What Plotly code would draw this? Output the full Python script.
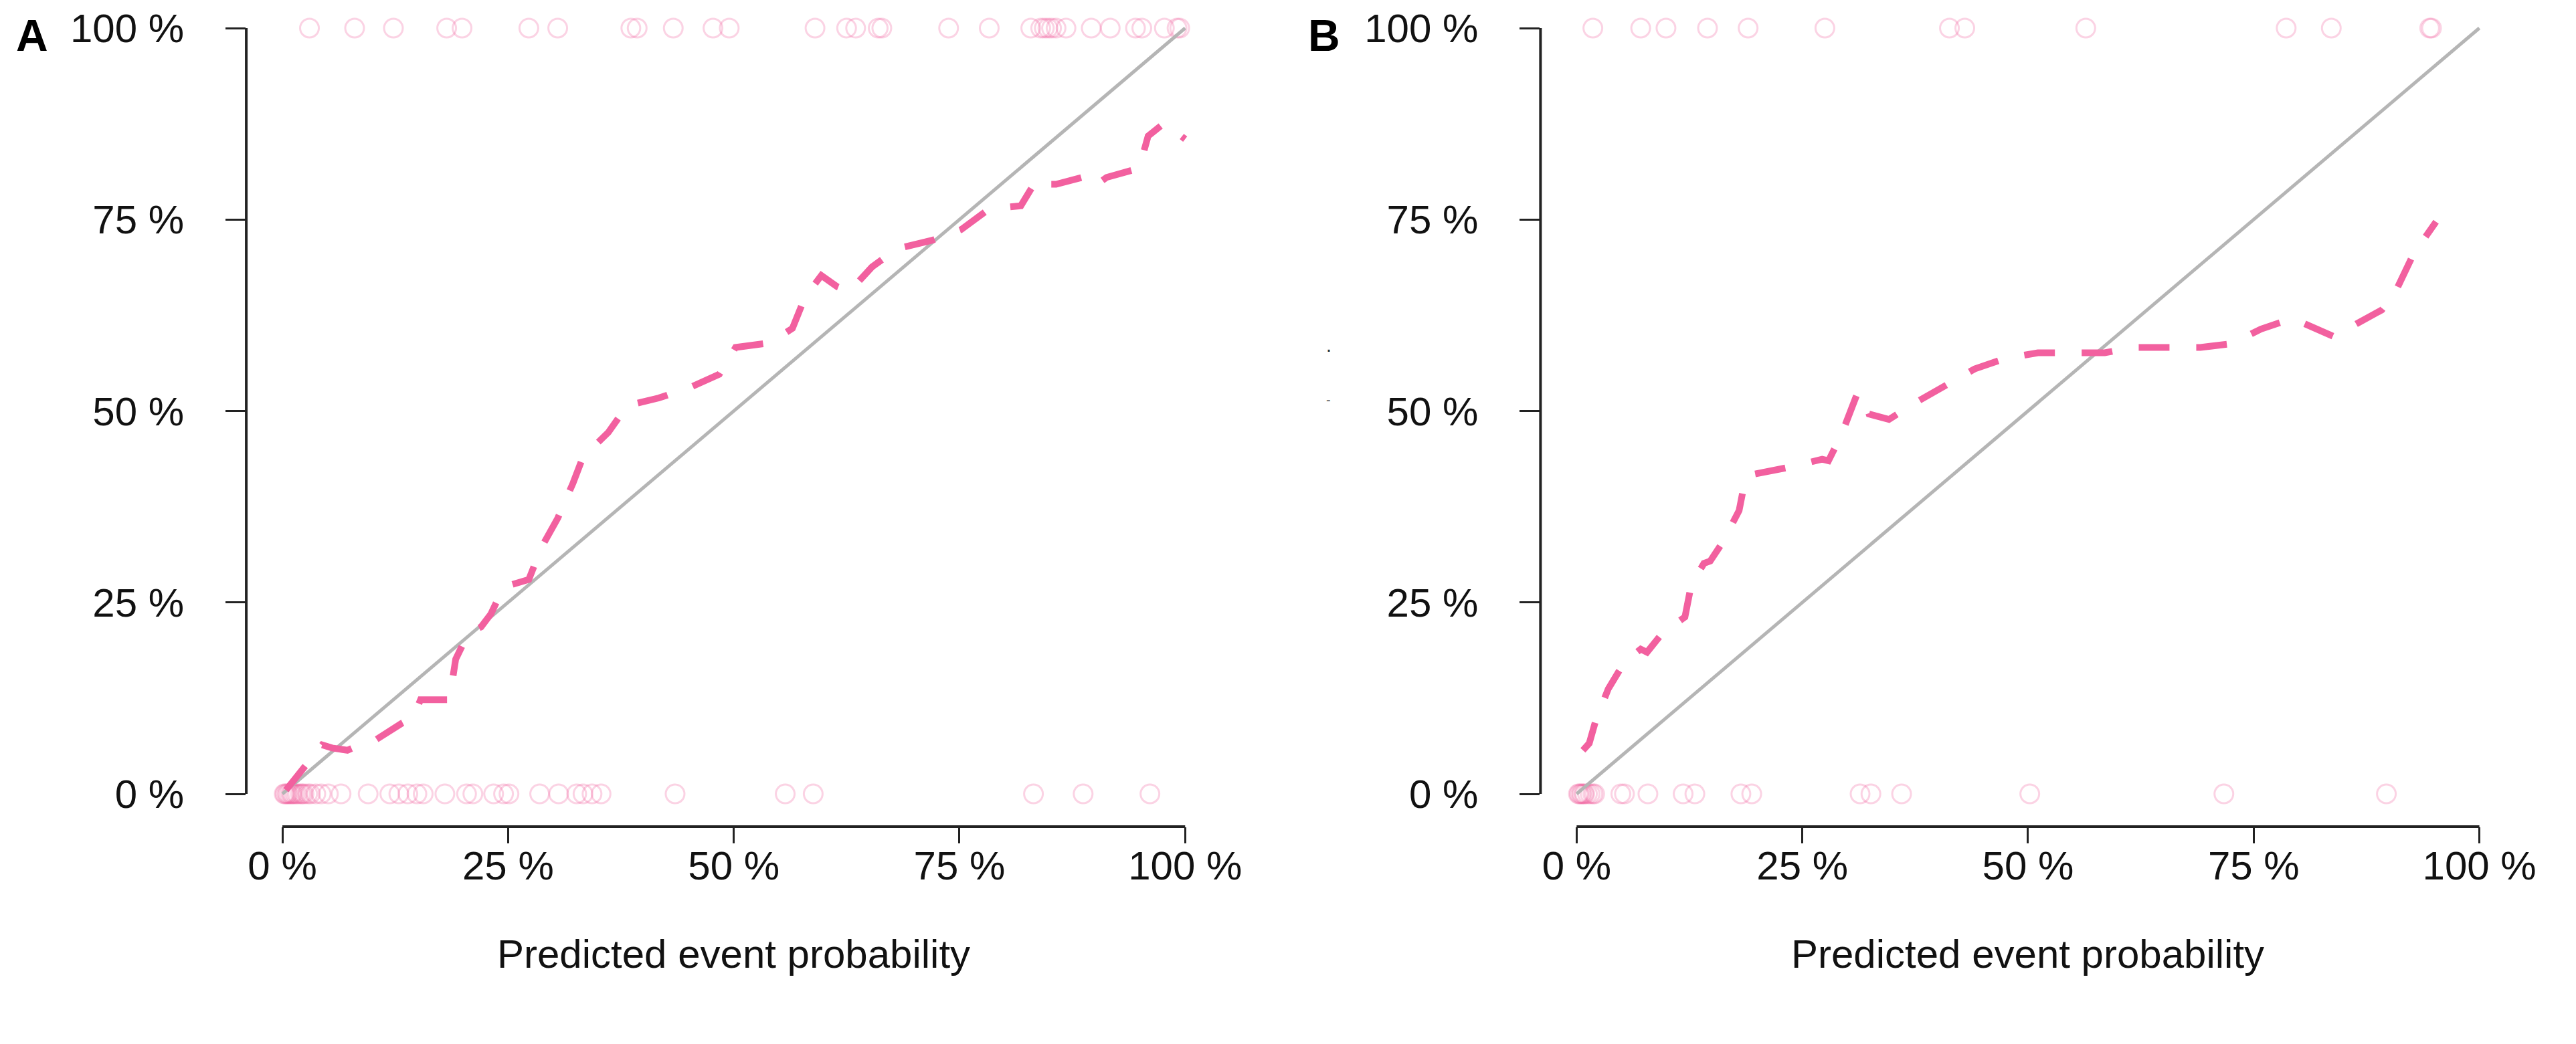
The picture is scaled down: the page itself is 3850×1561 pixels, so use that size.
import plotly.graph_objects as go

xa_curve = [0.4, 1.5, 2.7, 4.4, 5.5, 7.2, 8.8, 10.4, 13.2, 14.5, 15.3, 18.5, 19.2, 20.6, 22.0, 23.1, 24.5, 26.0, 27.3, 28.7,
            30.5, 32.2, 33.3, 36.1, 38.2, 41.7, 45.2, 48.4, 50.2, 54.0, 56.5, 57.9, 59.7, 61.5, 62.8, 65.3, 68.1, 72.0, 75.2, 78.3,
            81.8, 83.6, 84.7, 85.7, 88.9, 90.0, 91.3, 94.9, 95.9, 97.7, 100.0]
ya_curve = [0.5, 2.2, 4.0, 6.4, 6.0, 5.7, 6.5, 7.1, 9.2, 10.0, 12.3, 12.3, 17.6, 21.0, 21.8, 23.5, 27.0, 27.5, 28.0, 32.2,
            36.0, 40.6, 44.0, 47.2, 50.7, 51.7, 53.1, 54.8, 58.3, 58.9, 60.8, 64.9, 67.7, 66.2, 65.6, 68.8, 71.2, 72.3, 73.7, 76.4,
            76.8, 80.3, 79.6, 79.6, 80.6, 79.4, 80.5, 81.7, 85.9, 87.6, 85.5]

xb_curve = [0.7, 1.4, 2.1, 3.5, 5.3, 7.1, 7.8, 9.5, 12.0, 12.7, 14.1, 14.8, 16.2, 18.0, 18.7, 19.0, 23.3, 27.2, 27.9, 29.3,
            31.0, 31.7, 32.4, 34.6, 37.4, 40.9, 44.1, 47.6, 51.1, 54.7, 58.5, 61.7, 65.6, 69.1, 72.6, 75.8, 79.3, 82.5, 83.9, 86.4,
            89.2, 90.6, 92.7, 95.2]
yb_curve = [5.7, 6.6, 9.5, 13.7, 17.2, 18.9, 18.5, 21.0, 23.1, 27.3, 30.1, 30.4, 32.9, 37.0, 41.2, 41.6, 42.6, 43.7, 43.5, 46.8,
            52.0, 52.2, 49.6, 48.9, 51.0, 53.4, 55.5, 56.9, 57.6, 57.6, 57.6, 58.3, 58.3, 58.3, 58.8, 60.7, 62.1, 60.4, 59.7, 61.4,
            63.2, 65.3, 70.5, 74.7]

# observed events (100 %) and non-events (0 %) at their predicted probability
a_events = [3.0, 8.0, 12.3, 18.2, 19.9, 27.3, 30.5, 38.6, 39.3, 43.3, 47.7, 49.5, 59.0, 62.5, 63.5, 66.0, 66.4, 73.8,
            78.3, 82.9, 84.0, 84.4, 84.8, 85.2, 85.7, 86.8, 89.6, 91.7, 94.5, 95.2, 97.7, 99.1, 99.4]
a_nonevents = [0.2, 0.3, 0.5, 0.6, 0.8, 1.0, 1.1, 1.3, 1.5, 1.7, 2.0, 2.2, 2.4, 2.8, 3.1, 3.7, 4.3, 5.1, 6.5, 9.5,
               11.9, 12.9, 13.9, 14.9, 15.6, 18.0, 20.4, 21.1, 23.4, 24.5, 25.1, 28.5, 30.6, 32.6, 33.3, 34.3, 35.3,
               43.5, 55.7, 58.8, 83.2, 88.7, 96.1]
b_events = [1.8, 7.1, 9.9, 14.5, 19.0, 27.5, 41.3, 43.0, 56.4, 78.6, 83.6, 94.5, 94.7]
b_nonevents = [0.2, 0.3, 0.5, 0.6, 0.8, 0.9, 1.2, 1.5, 1.8, 2.0, 4.9, 5.3, 7.9, 11.8, 13.1, 18.2, 19.4, 31.4, 32.6,
               36.0, 50.2, 71.7, 89.7]

tick_vals = [0, 25, 50, 75, 100]
tick_text = ["0 %", "25 %", "50 %", "75 %", "100 %"]
diag = [0, 100]

PINK = "#f2609f"
CIRC = "rgba(242, 96, 159, 0.28)"
FONT = "Liberation Sans, Arial, sans-serif"

fig = go.Figure()

panels = [
    ("x", "y", xa_curve, ya_curve, a_events, a_nonevents),
    ("x2", "y2", xb_curve, yb_curve, b_events, b_nonevents),
]
for xr, yr, xc, yc, ev, nev in panels:
    # rug of outcomes
    fig.add_trace(go.Scatter(x=ev, y=[100] * len(ev), mode="markers", xaxis=xr, yaxis=yr,
                             marker=dict(symbol="circle-open", size=28, color=CIRC, line=dict(width=3))))
    fig.add_trace(go.Scatter(x=nev, y=[0] * len(nev), mode="markers", xaxis=xr, yaxis=yr,
                             marker=dict(symbol="circle-open", size=28, color=CIRC, line=dict(width=3))))
    # perfect calibration line
    fig.add_trace(go.Scatter(x=diag, y=diag, mode="lines", xaxis=xr, yaxis=yr,
                             line=dict(color="#b5b5b5", width=5)))
    # calibration curve
    fig.add_trace(go.Scatter(x=xc, y=yc, mode="lines", xaxis=xr, yaxis=yr,
                             line=dict(color=PINK, width=10, dash="46px,40px")))

xaxis_style = dict(range=[-4, 104], showgrid=False, zeroline=False, showline=False,
                   ticks="outside", ticklen=24, tickwidth=3, tickcolor="#222",
                   tickvals=tick_vals, ticktext=tick_text, ticklabelstandoff=-18,
                   tickfont=dict(family=FONT, size=60, color="#111"))
yaxis_style = dict(range=[-4.28, 102.97], domain=[0.2133, 1.0], showgrid=False, zeroline=False, showline=False,
                   ticks="outside", ticklen=30, tickwidth=3, tickcolor="#222",
                   tickvals=tick_vals, ticktext=tick_text, ticklabelstandoff=50,
                   tickfont=dict(family=FONT, size=60, color="#111"))

fig.update_layout(
    width=3850, height=1561,
    margin=dict(l=0, r=0, t=0, b=0),
    paper_bgcolor="white", plot_bgcolor="white",
    showlegend=False,
    xaxis=dict(xaxis_style, domain=[363 / 3850, 1832 / 3850], anchor="y"),
    yaxis=dict(yaxis_style, anchor="x"),
    xaxis2=dict(xaxis_style, domain=[2313 / 3850, 3782 / 3850], anchor="y2"),
    yaxis2=dict(yaxis_style, anchor="x2"),
)

# R-style bracket axis lines spanning only the tick range
for xr, yr in [("x", "y"), ("x2", "y2")]:
    fig.add_shape(type="line", xref=xr, yref=yr + " domain", x0=0, x1=100, y0=0, y1=0,
                  line=dict(color="#222", width=4))
    fig.add_shape(type="line", xref=xr + " domain", yref=yr, x0=0, x1=0, y0=0, y1=100,
                  line=dict(color="#222", width=4))
    fig.add_annotation(text="Predicted event probability", xref=xr, yref="paper", x=50, y=(1561 - 1418) / 1561,
                       showarrow=False, yanchor="middle", font=dict(family=FONT, size=60, color="#111"))

fig.add_annotation(text="<b>A</b>", xref="paper", yref="paper", x=40 / 3850, y=1 - 45 / 1561,
                   showarrow=False, xanchor="center", yanchor="middle", font=dict(family=FONT, size=66, color="black"))
fig.add_annotation(text="<b>B</b>", xref="paper", yref="paper", x=1987 / 3850, y=1 - 45 / 1561,
                   showarrow=False, xanchor="center", yanchor="middle", font=dict(family=FONT, size=66, color="black"))
# small stray marks between the panels
fig.add_annotation(text="·", xref="paper", yref="paper", x=1994 / 3850, y=1 - 495 / 1561,
                   showarrow=False, font=dict(family=FONT, size=30, color="#333"))
fig.add_annotation(text="-", xref="paper", yref="paper", x=1994 / 3850, y=1 - 590 / 1561,
                   showarrow=False, font=dict(family=FONT, size=20, color="#555"))

fig.write_html("out.html")
